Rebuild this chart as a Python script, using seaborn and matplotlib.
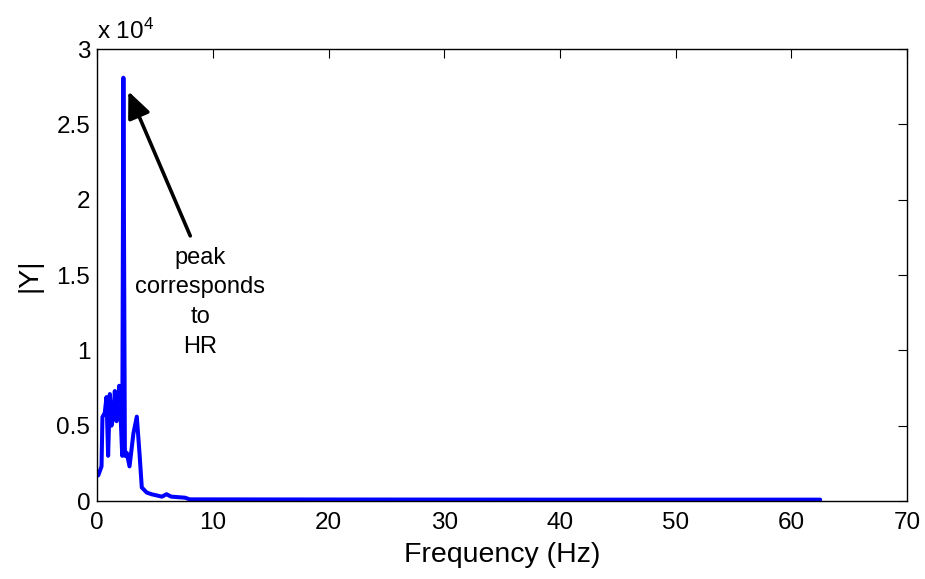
import matplotlib
matplotlib.use("Agg")
import matplotlib.pyplot as plt
import seaborn as sns
import pandas as pd
from matplotlib.ticker import FuncFormatter

# Data (frequency in Hz, magnitude |Y|)
freq = [0.10, 0.38, 0.46, 0.66, 0.81, 0.95, 1.10, 1.24, 1.40, 1.53, 1.68,
        1.91, 2.03, 2.17, 2.27, 2.40, 2.56, 2.80, 3.14, 3.43, 3.66, 3.86,
        4.29, 4.70, 5.60, 6.00, 6.40, 7.60, 8.00, 20.0, 40.0, 62.5]
amp = [1700, 2300, 5570, 5850, 6900, 3000, 7100, 5000, 5600, 7300, 5300,
       7650, 5650, 3000, 28100, 3000, 3200, 2300, 4500, 5600, 3200, 900,
       560, 450, 290, 450, 290, 220, 110, 100, 90, 90]

x_ticks = [0, 10, 20, 30, 40, 50, 60, 70]
y_ticks = [0, 5000, 10000, 15000, 20000, 25000, 30000]
annot_text = "peak\ncorresponds\nto\nHR"

df = pd.DataFrame({"Frequency": freq, "Y": amp})

sns.set_style("white")
plt.rcParams["font.family"] = ["Liberation Sans", "DejaVu Sans"]
plt.rcParams["mathtext.default"] = "regular"
plt.rcParams["text.color"] = "black"
plt.rcParams["axes.labelcolor"] = "black"
plt.rcParams["xtick.color"] = "black"
plt.rcParams["ytick.color"] = "black"

fig = plt.figure(figsize=(9.25, 5.79), dpi=100)
ax = fig.add_axes([0.105, 0.1347, 0.8755, 0.7805])

sns.lineplot(data=df, x="Frequency", y="Y", ax=ax, color=(0, 0, 1),
             linewidth=2.9, estimator=None, sort=False)

ax.set_xlim(0, 70)
ax.set_ylim(0, 30000)
ax.set_xticks(x_ticks)
ax.set_yticks(y_ticks)
ax.yaxis.set_major_formatter(FuncFormatter(lambda v, p: "%g" % (v / 1e4)))

ax.tick_params(axis="both", direction="in", length=6.5, width=0.8,
               top=True, right=True, labelsize=17.5, colors="black")
ax.tick_params(axis="x", pad=8)
ax.tick_params(axis="y", pad=5)
for s in ax.spines.values():
    s.set_visible(True)
    s.set_color("black")
    s.set_linewidth(1.0)

ax.set_xlabel("Frequency (Hz)", fontsize=20.5, labelpad=6, color="black")
ax.set_ylabel("|Y|", fontsize=20.5, labelpad=10, color="black")

ax.text(0.0, 1.012, "x 10$^{4}$", transform=ax.transAxes, ha="left",
        va="bottom", fontsize=17.5, color="black")

ax.annotate("", xy=(2.7, 27200), xytext=(8.05, 17600),
            arrowprops=dict(arrowstyle="-|>,head_length=0.8,head_width=0.35",
                            mutation_scale=20, color="black", lw=2.6,
                            shrinkA=0, shrinkB=0))
ax.text(8.9, 13200, annot_text, ha="center", va="center", fontsize=17,
        linespacing=1.45, color="black")

fig.savefig("out.png", dpi=100)
